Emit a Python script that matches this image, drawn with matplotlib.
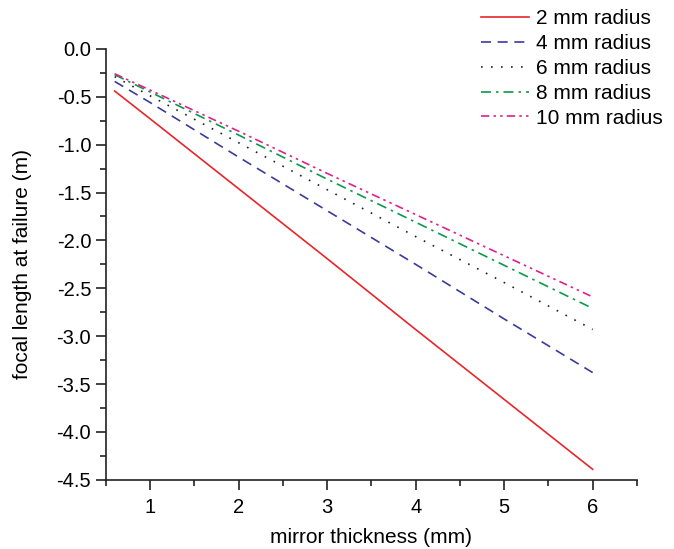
import matplotlib

matplotlib.use("Agg")
import matplotlib.pyplot as plt
from matplotlib.ticker import MultipleLocator

plt.rcParams["font.family"] = ["Liberation Sans", "DejaVu Sans"]

# mirror thickness (mm) and focal length at failure (m)
thickness = [0.6, 1, 2, 3, 4, 5, 6]
focal_2mm = [-0.44, -0.73, -1.46, -2.19, -2.93, -3.66, -4.39]
focal_4mm = [-0.34, -0.56, -1.13, -1.69, -2.25, -2.82, -3.38]
focal_6mm = [-0.29, -0.49, -0.98, -1.47, -1.96, -2.44, -2.93]
focal_8mm = [-0.27, -0.45, -0.90, -1.36, -1.81, -2.26, -2.71]
focal_10mm = [-0.26, -0.43, -0.86, -1.30, -1.73, -2.16, -2.59]
labels = ["2 mm radius", "4 mm radius", "6 mm radius", "8 mm radius", "10 mm radius"]

fig = plt.figure(figsize=(6.74, 5.49), dpi=100)
ax = fig.add_axes([0.157, 0.126, 0.788, 0.785])

styles = [
    dict(color="#e8262a", linestyle="-"),
    dict(color="#3b3b9c", linestyle=(0, (6, 4))),
    dict(color="#222222", linestyle=(0, (1, 5))),
    dict(color="#0a9a4a", linestyle=(0, (6, 3, 1.5, 3))),
    dict(color="#e0208c", linestyle=(0, (5, 2.5, 1.5, 2.5, 1.5, 2.5))),
]
series = [focal_2mm, focal_4mm, focal_6mm, focal_8mm, focal_10mm]
for ys, lab, st in zip(series, labels, styles):
    ax.plot(thickness, ys, linewidth=1.2, label=lab, **st)

ax.set_xlim(0.5, 6.5)
ax.set_ylim(-4.5, 0.0)
ax.xaxis.set_major_locator(MultipleLocator(1))
ax.xaxis.set_minor_locator(MultipleLocator(0.5))
ax.yaxis.set_major_locator(MultipleLocator(0.5))
ax.yaxis.set_minor_locator(MultipleLocator(0.25))
ax.yaxis.set_major_formatter(plt.FuncFormatter(lambda v, p: f"{v:.1f}"))

for side in ("top", "right"):
    ax.spines[side].set_visible(False)
for side in ("left", "bottom"):
    ax.spines[side].set_linewidth(1.2)
    ax.spines[side].set_color("#222222")
ax.tick_params(which="major", direction="out", length=7, width=1.2, labelsize=14.5, color="#222222")
ax.tick_params(which="minor", direction="out", length=4, width=1.2, color="#222222")
ax.tick_params(axis="x", pad=6)

ax.set_xlabel("mirror thickness (mm)", fontsize=15, labelpad=8)
ax.set_ylabel("focal length at failure (m)", fontsize=15, labelpad=18)

ax.legend(loc="upper left", bbox_to_anchor=(0.714, 0.983), bbox_transform=fig.transFigure,
          frameon=False, fontsize=15, handlelength=2.3, handletextpad=0.35,
          labelspacing=0.28, borderaxespad=0, borderpad=0)

fig.savefig("out.png", dpi=100)
plt.close(fig)
